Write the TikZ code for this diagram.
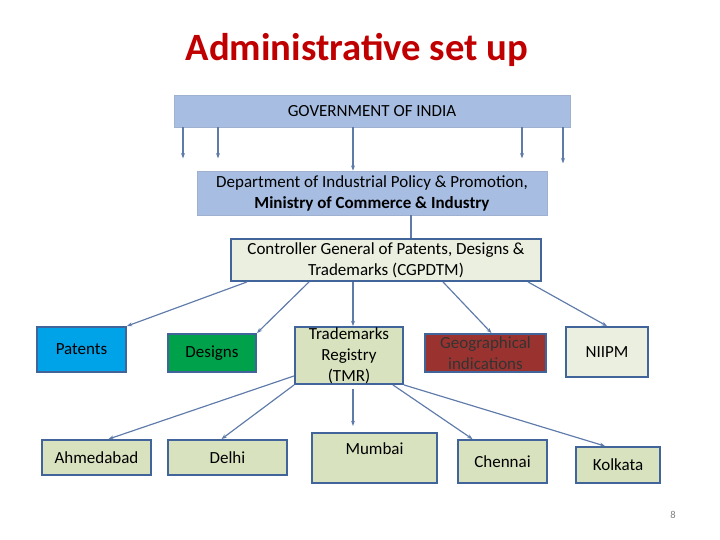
\documentclass[tikz,border=0pt]{standalone}
\usepackage{fontspec}
\setmainfont{Carlito}
\usetikzlibrary{arrows.meta}
\definecolor{govblue}{HTML}{A7BEE2}
\definecolor{edgeblue}{HTML}{41649A}
\definecolor{paleg}{HTML}{EBEFDF}
\definecolor{sage}{HTML}{D8E2BE}
\definecolor{skyb}{HTML}{00A2E8}
\definecolor{grn}{HTML}{00A14B}
\definecolor{brick}{HTML}{9A3330}
\definecolor{titlered}{HTML}{C00000}
\begin{document}
\begin{tikzpicture}
    [x=0.03cm, y=-0.03cm,
     >={Stealth[scale=0.6]},  % small arrow tips
     box/.style={shape=rectangle, draw=edgeblue, line width=1.6pt, inner sep=0pt, align=center, font=\fontsize{14.5}{18}\selectfont},
     govbox/.style={shape=rectangle, fill=govblue, draw=govblue!80!gray, line width=0.6pt, inner sep=0pt, align=center, font=\fontsize{14.5}{18}\selectfont},
     link/.style={draw=edgeblue!85, line width=1pt, ->},
    ]
\useasboundingbox (0,0) rectangle (720,540);

\node[font=\bfseries\fontsize{33}{38}\selectfont, text=titlered] (title) at (357,50) {Administrative set up};
\node[govbox, minimum width=396*0.03cm, minimum height=32*0.03cm] (gov) at (372,111) {GOVERNMENT OF INDIA};
\node[govbox, minimum width=350*0.03cm, minimum height=44*0.03cm] (dept) at (372,193) {Department of Industrial Policy \& Promotion,\\ \textbf{Ministry of Commerce \& Industry}};
\node[box, fill=paleg, minimum width=310*0.03cm, minimum height=42*0.03cm] (cg) at (386,260) {Controller General of Patents, Designs \&\\ Trademarks (CGPDTM)};

\node[box, fill=skyb, minimum width=89*0.03cm, minimum height=45*0.03cm] (patents) at (81.5,349.5) {Patents};
\node[box, fill=grn, minimum width=88*0.03cm, minimum height=38*0.03cm] (designs) at (212,353) {Designs};
\node[box, fill=sage, minimum width=108*0.03cm, minimum height=57*0.03cm] (tmr) at (349,355.5) {Trademarks\\ Registry\\ (TMR)};
\node[box, fill=brick, text=black!80, minimum width=121*0.03cm, minimum height=38*0.03cm] (gi) at (485.5,353) {Geographical\\ indications};
\node[box, fill=paleg, minimum width=82*0.03cm, minimum height=50*0.03cm] (niipm) at (607,352) {NIIPM};

\node[box, fill=sage, minimum width=109*0.03cm, minimum height=35*0.03cm] (ahmedabad) at (96.5,457.5) {Ahmedabad};
\node[box, fill=sage, minimum width=119*0.03cm, minimum height=35*0.03cm] (delhi) at (227.5,457.5) {Delhi};
\node[box, fill=sage, minimum width=125*0.03cm, minimum height=50*0.03cm, text depth=16pt] (mumbai) at (374.5,458) {Mumbai};
\node[box, fill=sage, minimum width=89*0.03cm, minimum height=43*0.03cm] (chennai) at (502.5,461.5) {Chennai};
\node[box, fill=sage, minimum width=84*0.03cm, minimum height=36*0.03cm] (kolkata) at (618,465) {Kolkata};

\node[font=\small, text=gray] (page) at (673,515) {8};

% government to ministries
\draw[link] (gov.south -| 183,0) -- ++(0,31);
\draw[link] (gov.south -| 218,0) -- ++(0,31);
\draw[link] (gov.south -| 353,0) -- (dept.north -| 353,0);
\draw[link] (gov.south -| 522,0) -- ++(0,31);
\draw[link] (gov.south -| 563,0) -- ++(0,36);
\draw[link, -] (dept.south -| 411,0) -- (cg.north -| 411,0);

% controller to offices
\draw[link] (cg.south -| 247,0) -- (patents.north east);
\draw[link] (cg.south -| 309,0) -- (designs.north east);
\draw[link] (cg.south -| 353,0) -- (tmr.north -| 353,0);
\draw[link] (cg.south -| 443,0) -- ([xshift=6*0.03cm]gi.north);
\draw[link] (cg.south -| 528,0) -- (niipm.north);

% registry to branches
\draw[link] ([yshift=9*0.03cm]tmr.south west) -- ([xshift=12*0.03cm]ahmedabad.north);
\draw[link] (tmr.south west) -- ([xshift=-6*0.03cm]delhi.north);
\draw[link] ([yshift=-4*0.03cm]tmr.south -| 353,0) -- ++(0,37);
\draw[link] ([xshift=-11*0.03cm]tmr.south east) -- ([xshift=-30*0.03cm]chennai.north);
\draw[link] (tmr.south east) -- ([xshift=-13*0.03cm]kolkata.north);

\end{tikzpicture}
\end{document}
